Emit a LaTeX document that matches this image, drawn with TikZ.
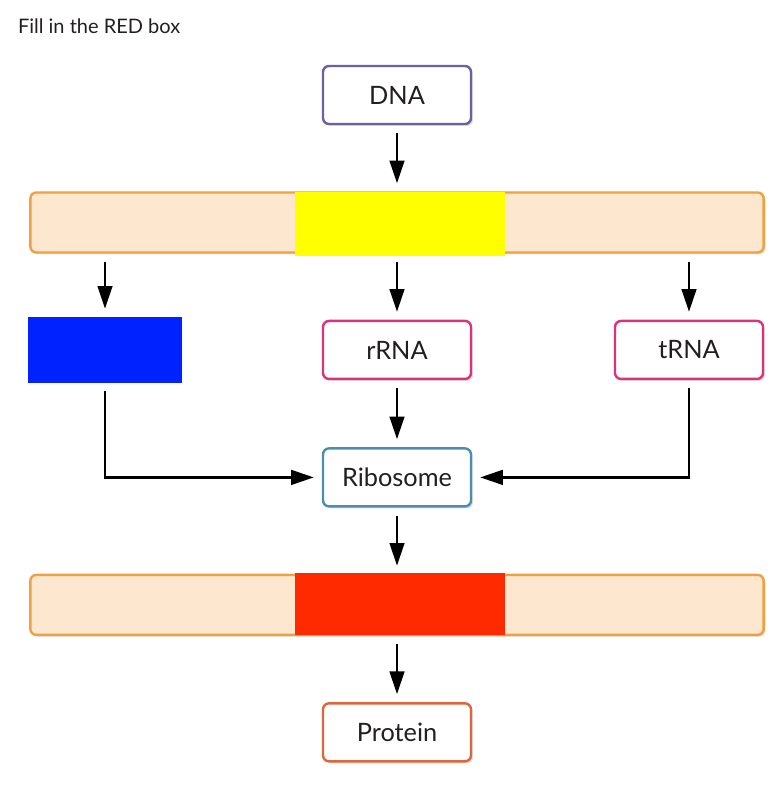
\documentclass[tikz,border=0pt]{standalone}
\usepackage{fontspec}
\setmainfont{Lato}
\usepackage{tikz}
\usetikzlibrary{shapes,arrows.meta,shadows,positioning}
\usepackage{xcolor}
\definecolor{dnaline}{HTML}{6E5F9E}
\definecolor{rnaline}{HTML}{E0307A}
\definecolor{riboline}{HTML}{4A8EB0}
\definecolor{protline}{HTML}{E0643C}
\definecolor{barline}{HTML}{F0A040}
\definecolor{barfill}{HTML}{FDE8CF}
\definecolor{holeyellow}{HTML}{FFFF00}
\definecolor{holeblue}{HTML}{0022FF}
\definecolor{holered}{HTML}{FF2A00}
\definecolor{ink}{HTML}{231F20}

\begin{document}
\begin{tikzpicture}[node distance = 95.6pt, auto]

    \tikzstyle{box} = [
        rectangle,
        draw,
        line width=1.8pt,
        rounded corners=4.5pt,
        fill=white,
        minimum width=111pt,
        minimum height=43.5pt,
        text centered,
        text=ink,
        font=\fontsize{19}{22}\selectfont,
        drop shadow={shadow xshift=1.5pt, shadow yshift=-1.5pt, opacity=.25, fill=black!50},
    ]
    \tikzstyle{bar} = [
        rectangle,
        draw=barline,
        fill=barfill,
        line width=1.8pt,
        rounded corners=4.5pt,
        minimum width=550pt,
        minimum height=45pt,
        drop shadow={shadow xshift=1.5pt, shadow yshift=-1.5pt, opacity=.2, fill=black!50},
    ]
    \tikzstyle{hole} = [
        rectangle,
        inner sep=0pt,
        minimum width=157pt,
        minimum height=48pt,
    ]
    \tikzstyle{line} = [
        draw,
        line width=1.8pt,
        -{Triangle[length=17pt,width=11pt]},
        shorten <=6pt,
        shorten >=6pt,
    ]

    \useasboundingbox (0,0) rectangle (587.25pt,-591pt);

    \node [anchor=base west, text=ink, font=\fontsize{15}{18}\selectfont]
        (title) at (10pt,-25.5pt) {Fill in the RED box};

    \node [box, draw=dnaline] (dna) at (297.75pt,-71.25pt) {DNA};
    \node [bar, below of=dna] (tx) {};
    \node [hole, fill=holeyellow] (ylw) at ([xshift=2.25pt,yshift=-1.5pt]tx) {};

    \node [box, draw=rnaline, below of=tx] (rrna) {rRNA};
    \node [box, draw=rnaline, right of=rrna, node distance=219pt] (trna) {tRNA};
    \node [hole, fill=holeblue, left of=rrna, node distance=219pt,
        minimum width=115.5pt, minimum height=49.5pt] (blu) {};

    \path [line] (dna) -- (tx);
    \path [line] (tx.south -| blu) -- (blu);
    \path [line] (tx) -- (rrna);
    \path [line] (tx.south -| trna) -- (trna);

    \node [box, draw=riboline, below of=rrna] (ribo) {Ribosome};

    \path [line] (rrna) -- (ribo);
    \path [line] (blu) |- (ribo);
    \path [line] (trna) |- (ribo);

    \node [bar, below of=ribo] (tl) {};
    \node [hole, fill=holered, minimum height=46.5pt] (red) at ([xshift=2.25pt,yshift=0.75pt]tl) {};

    \node [box, draw=protline, below of=tl] (prot) {Protein};

    \path [line] (ribo) -- (tl);
    \path [line] (tl) -- (prot);

\end{tikzpicture}
\end{document}
